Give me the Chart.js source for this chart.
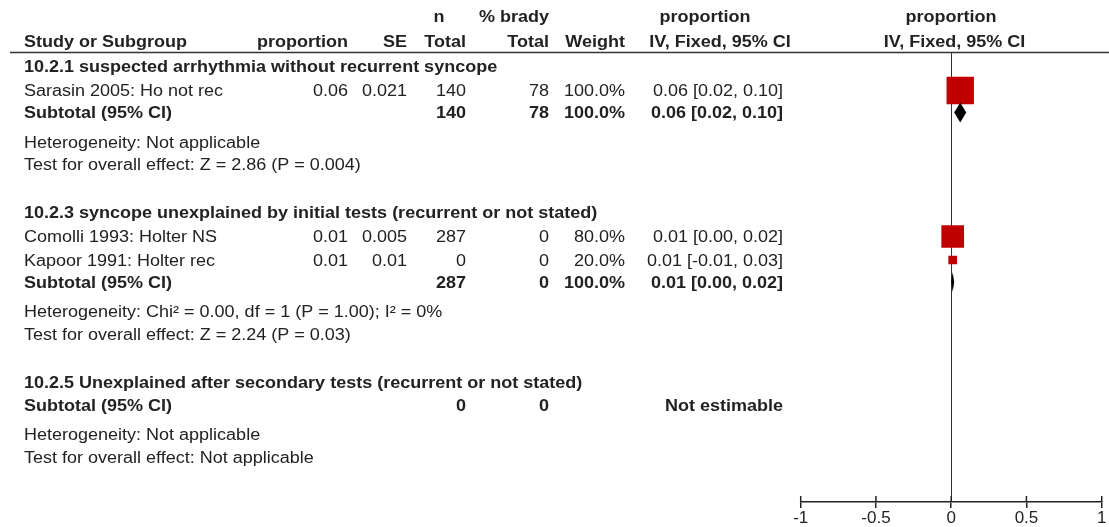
<!DOCTYPE html>
<html>
<head>
<meta charset="utf-8">
<script src="https://cdn.jsdelivr.net/npm/chart.js@4.4.1/dist/chart.umd.min.js"></script>
<style>
  html, body { margin: 0; padding: 0; background: #ffffff; }
  #wrap { width: 1109px; height: 527px; position: relative; }
</style>
</head>
<body>
<div id="wrap"><canvas id="forest" width="1109" height="527"></canvas></div>
<script>
// ---- Subgroups ----
const groupTitles = [
  '10.2.1 suspected arrhythmia without recurrent syncope',
  '10.2.3 syncope unexplained by initial tests (recurrent or not stated)',
  '10.2.5 Unexplained after secondary tests (recurrent or not stated)'
];

// ---- Individual studies ----
const studyNames  = ['Sarasin 2005: Ho not rec', 'Comolli 1993: Holter NS', 'Kapoor 1991: Holter rec'];
const studyGroup  = [0, 1, 1];
const studyProp   = [0.06, 0.01, 0.01];
const studySE     = [0.021, 0.005, 0.01];
const studyN      = [140, 287, 0];
const studyBrady  = [78, 0, 0];
const studyWeight = [100.0, 80.0, 20.0];
const studyLo     = [0.02, 0.00, -0.01];
const studyHi     = [0.10, 0.02, 0.03];

// ---- Subtotals (one per subgroup) ----
const subN      = [140, 287, 0];
const subBrady  = [78, 0, 0];
const subWeight = [100.0, 100.0, null];
const subEst    = [0.06, 0.01, null];
const subLo     = [0.02, 0.00, null];
const subHi     = [0.10, 0.02, null];
const heterogeneity = [
  'Heterogeneity: Not applicable',
  'Heterogeneity: Chi\u00b2 = 0.00, df = 1 (P = 1.00); I\u00b2 = 0%',
  'Heterogeneity: Not applicable'
];
const overallEffect = [
  'Test for overall effect: Z = 2.86 (P = 0.004)',
  'Test for overall effect: Z = 2.24 (P = 0.03)',
  'Test for overall effect: Not applicable'
];

// ---- Axis ----
const axisTicks = [-1, -0.5, 0, 0.5, 1];
const axisTickLabels = ['-1', '-0.5', '0', '0.5', '1'];

// ---- Layout / style ----
const FONT = '"Liberation Sans", Arial, sans-serif';
const FS = 16;          // table font size
const SX = 1.125;       // horizontal glyph stretch of table text
const TEXT_DY = 1.5;    // text sits slightly below the mark centre line
const INK = '#222222';
const RED = '#C00000';
const TABLE_H = 502;    // height of the table/plot body in layout units
const SP = { firstGroup: 66.5, groupToRow: 24, rowToRow: 23.5, rowToSub: 22, groupToSub: 23,
             subToHet: 29.5, hetToTest: 22.5, testToGroup: 48 };
const HEAD1_Y = 16.5, HEAD2_Y = 41, RULE_Y = 52.5;
const COL = { study: 24, prop: 348, se: 407, n: 466, nHead: 439, brady: 549, weight: 625,
              ci: 783, ciHead1: 705, ciHead2: 720, plotHead1: 951, plotHead2: 954.5 };

// Row positions derived from the spacing rules
const studyY = [], subY = [], groupY = [], hetY = [], testY = [];
(function buildRows() {
  let y = SP.firstGroup;
  for (let g = 0; g < groupTitles.length; g++) {
    if (g > 0) y += SP.testToGroup;
    groupY.push(y);
    let first = true;
    for (let i = 0; i < studyNames.length; i++) {
      if (studyGroup[i] !== g) continue;
      y += first ? SP.groupToRow : SP.rowToRow;
      first = false;
      studyY[i] = y;
    }
    y += first ? SP.groupToSub : SP.rowToSub;
    subY.push(y);
    y += SP.subToHet; hetY.push(y);
    y += SP.hetToTest; testY.push(y);
  }
})();

function squareSide(w) { return 4 + 23.4 * w / 100; }
const fmt2 = v => v.toFixed(2);

function text(ctx, str, x, y, align, bold) {
  ctx.save();
  ctx.font = (bold ? 'bold ' : '') + FS + 'px ' + FONT;
  ctx.textBaseline = 'middle';
  ctx.textAlign = 'left';
  ctx.fillStyle = INK;
  const w = ctx.measureText(str).width * SX;
  const left = align === 'right' ? x - w : align === 'center' ? x - w / 2 : x;
  ctx.translate(left, y + TEXT_DY);
  ctx.scale(SX, 1);
  ctx.fillText(str, 0, 0);
  ctx.restore();
}

const forestPlugin = {
  id: 'forestPlugin',
  beforeDatasetsDraw(chart) {
    const { ctx, scales: { x, y } } = chart;
    ctx.save();
    // header rule
    ctx.strokeStyle = '#333333';
    ctx.lineWidth = 1.5;
    ctx.beginPath();
    ctx.moveTo(10, y.getPixelForValue(RULE_Y));
    ctx.lineTo(chart.width, y.getPixelForValue(RULE_Y));
    ctx.stroke();
    // line of no effect
    const x0 = Math.round(x.getPixelForValue(0)) + 0.5;
    ctx.lineWidth = 1;
    ctx.strokeStyle = '#333333';
    ctx.beginPath();
    ctx.moveTo(x0, y.getPixelForValue(RULE_Y));
    ctx.lineTo(x0, y.getPixelForValue(TABLE_H));
    ctx.stroke();
    // confidence intervals
    ctx.strokeStyle = '#000000';
    for (let i = 0; i < studyNames.length; i++) {
      const py = y.getPixelForValue(studyY[i]);
      ctx.beginPath();
      ctx.moveTo(x.getPixelForValue(studyLo[i]), py);
      ctx.lineTo(x.getPixelForValue(studyHi[i]), py);
      ctx.stroke();
    }
    ctx.restore();
  },
  afterDatasetsDraw(chart) {
    const { ctx, scales: { x, y } } = chart;
    ctx.save();
    // subtotal diamonds
    ctx.fillStyle = '#000000';
    for (let g = 0; g < subEst.length; g++) {
      if (subEst[g] === null) continue;
      const py = y.getPixelForValue(subY[g]);
      ctx.beginPath();
      ctx.moveTo(x.getPixelForValue(subLo[g]), py);
      ctx.lineTo(x.getPixelForValue(subEst[g]), py - 10);
      ctx.lineTo(x.getPixelForValue(subHi[g]), py);
      ctx.lineTo(x.getPixelForValue(subEst[g]), py + 10);
      ctx.closePath();
      ctx.fill();
    }
    // upward halves of the axis ticks
    ctx.strokeStyle = INK;
    ctx.lineWidth = 1.5;
    const base = chart.chartArea.bottom;
    for (const t of axisTicks) {
      const px = x.getPixelForValue(t);
      ctx.beginPath();
      ctx.moveTo(px, base - 6);
      ctx.lineTo(px, base);
      ctx.stroke();
    }
    ctx.restore();

    // ---- table text ----
    const Y = v => y.getPixelForValue(v);
    // column headers
    text(ctx, 'n', COL.nHead, Y(HEAD1_Y), 'center', true);
    text(ctx, '% brady', COL.brady, Y(HEAD1_Y), 'right', true);
    text(ctx, 'proportion', COL.ciHead1, Y(HEAD1_Y), 'center', true);
    text(ctx, 'proportion', COL.plotHead1, Y(HEAD1_Y), 'center', true);
    text(ctx, 'Study or Subgroup', COL.study, Y(HEAD2_Y), 'left', true);
    text(ctx, 'proportion', COL.prop, Y(HEAD2_Y), 'right', true);
    text(ctx, 'SE', COL.se, Y(HEAD2_Y), 'right', true);
    text(ctx, 'Total', COL.n, Y(HEAD2_Y), 'right', true);
    text(ctx, 'Total', COL.brady, Y(HEAD2_Y), 'right', true);
    text(ctx, 'Weight', COL.weight, Y(HEAD2_Y), 'right', true);
    text(ctx, 'IV, Fixed, 95% CI', COL.ciHead2, Y(HEAD2_Y), 'center', true);
    text(ctx, 'IV, Fixed, 95% CI', COL.plotHead2, Y(HEAD2_Y), 'center', true);

    for (let g = 0; g < groupTitles.length; g++) {
      text(ctx, groupTitles[g], COL.study, Y(groupY[g]), 'left', true);
      const sy = Y(subY[g]);
      text(ctx, 'Subtotal (95% CI)', COL.study, sy, 'left', true);
      text(ctx, String(subN[g]), COL.n, sy, 'right', true);
      text(ctx, String(subBrady[g]), COL.brady, sy, 'right', true);
      if (subWeight[g] !== null) text(ctx, subWeight[g].toFixed(1) + '%', COL.weight, sy, 'right', true);
      const ci = subEst[g] === null ? 'Not estimable'
        : fmt2(subEst[g]) + ' [' + fmt2(subLo[g]) + ', ' + fmt2(subHi[g]) + ']';
      text(ctx, ci, COL.ci, sy, 'right', true);
      text(ctx, heterogeneity[g], COL.study, Y(hetY[g]), 'left', false);
      text(ctx, overallEffect[g], COL.study, Y(testY[g]), 'left', false);
    }
    for (let i = 0; i < studyNames.length; i++) {
      const sy = Y(studyY[i]);
      text(ctx, studyNames[i], COL.study, sy, 'left', false);
      text(ctx, String(studyProp[i]), COL.prop, sy, 'right', false);
      text(ctx, String(studySE[i]), COL.se, sy, 'right', false);
      text(ctx, String(studyN[i]), COL.n, sy, 'right', false);
      text(ctx, String(studyBrady[i]), COL.brady, sy, 'right', false);
      text(ctx, studyWeight[i].toFixed(1) + '%', COL.weight, sy, 'right', false);
      text(ctx, fmt2(studyProp[i]) + ' [' + fmt2(studyLo[i]) + ', ' + fmt2(studyHi[i]) + ']', COL.ci, sy, 'right', false);
    }
  }
};

new Chart(document.getElementById('forest'), {
  type: 'scatter',
  data: {
    datasets: [{
      label: 'Studies',
      data: studyProp.map((p, i) => ({ x: p, y: studyY[i] })),
      pointStyle: 'rect',
      pointRadius: studyWeight.map(w => squareSide(w) / (2 * Math.SQRT1_2)),
      pointHoverRadius: studyWeight.map(w => squareSide(w) / (2 * Math.SQRT1_2)),
      backgroundColor: RED,
      borderWidth: 0
    }]
  },
  options: {
    responsive: false,
    animation: false,
    devicePixelRatio: 1,
    events: [],
    layout: { autoPadding: false, padding: { left: 800.7, right: 7.3, top: 0, bottom: 0 } },
    plugins: { legend: { display: false }, tooltip: { enabled: false } },
    scales: {
      x: {
        type: 'linear',
        position: 'bottom',
        min: axisTicks[0],
        max: axisTicks[axisTicks.length - 1],
        afterBuildTicks: s => { s.ticks = axisTicks.map(v => ({ value: v })); },
        afterFit: s => { s.height = 25; },
        border: { display: true, color: INK, width: 1.5 },
        grid: { drawOnChartArea: false, drawTicks: true, tickLength: 6, color: INK, lineWidth: 1.5 },
        ticks: {
          padding: 0,
          color: INK,
          font: { family: FONT, size: 17 },
          maxRotation: 0,
          autoSkip: false,
          callback: (v, i) => axisTickLabels[i]
        }
      },
      y: { type: 'linear', display: false, reverse: true, min: 0, max: TABLE_H }
    }
  },
  plugins: [forestPlugin]
});
</script>
</body>
</html>
